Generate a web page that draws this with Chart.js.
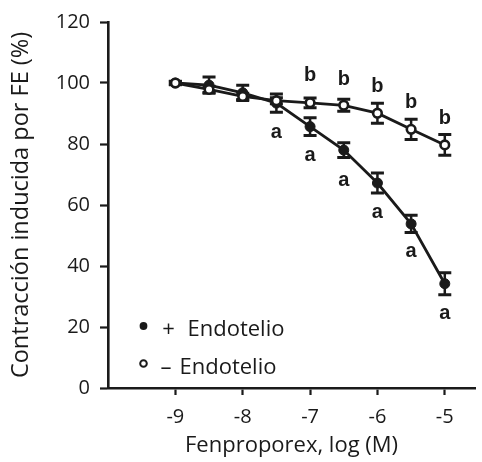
<!DOCTYPE html>
<html><head><meta charset="utf-8">
<script src="https://cdn.jsdelivr.net/npm/chart.js@4/dist/chart.umd.min.js"></script>
<style>html,body{margin:0;padding:0;background:#fff;}canvas{display:block;}</style>
</head><body>
<canvas id="c" width="482" height="462"></canvas>
<script>
// ---- data ----
const logDose = [-9, -8.5, -8, -7.5, -7, -6.5, -6, -5.5, -5];
const withEndo = [100, 99.3, 96.8, 93.4, 85.7, 78, 67.2, 53.8, 34.2];
const withEndoErr = [0.6, 2.7, 2.5, 3, 2.9, 2.4, 3.3, 2.8, 3.6];
const withoutEndo = [100, 97.9, 95.6, 94.2, 93.5, 92.7, 90.1, 84.8, 79.7];
const withoutEndoErr = [0.5, 1, 1, 1, 1.6, 2, 3.3, 3.3, 3.4];
const seriesNames = ['+ Endotelio', '\u2013 Endotelio'];
const xTickValues = [-9, -8, -7, -6, -5];
const yTickValues = [0, 20, 40, 60, 80, 100, 120];
// significance letters (x in log M, y in % units)
const letterA_x = [-7.5, -7, -6.5, -6, -5.5, -5];
const letterA_y = [83.8, 76.1, 67.9, 57.4, 44.6, 24.4];
const letterB_x = [-7, -6.5, -6, -5.5, -5];
const letterB_y = [102.6, 101, 98.7, 93.6, 88.5];

const INK = '#1a1a1a';
const FONT = '"Open Sans", "DejaVu Sans", sans-serif';

const toPts = (xs, ys) => xs.map((x, i) => ({x: x, y: ys[i]}));

const errorBars = {
  id: 'errorBars',
  beforeDatasetsDraw(chart) {
    const ctx = chart.ctx, xs = chart.scales.x, ys = chart.scales.y;
    const sets = [[withEndo, withEndoErr], [withoutEndo, withoutEndoErr]];
    ctx.save();
    ctx.strokeStyle = INK;
    sets.forEach(([vals, errs]) => {
      vals.forEach((v, i) => {
        const px = xs.getPixelForValue(logDose[i]);
        const top = ys.getPixelForValue(v + errs[i]);
        const bot = ys.getPixelForValue(v - errs[i]);
        ctx.lineWidth = 2.5;
        ctx.beginPath(); ctx.moveTo(px, top); ctx.lineTo(px, bot); ctx.stroke();
        ctx.lineWidth = 3;
        ctx.beginPath();
        ctx.moveTo(px - 6.5, top); ctx.lineTo(px + 6.5, top);
        ctx.moveTo(px - 6.5, bot); ctx.lineTo(px + 6.5, bot);
        ctx.stroke();
      });
    });
    ctx.restore();
  }
};

const letters = {
  id: 'letters',
  afterDatasetsDraw(chart) {
    const ctx = chart.ctx, xs = chart.scales.x, ys = chart.scales.y;
    ctx.save();
    ctx.fillStyle = INK;
    ctx.font = 'bold 20px "Liberation Sans", Arial, sans-serif';
    ctx.textAlign = 'center';
    ctx.textBaseline = 'middle';
    letterA_x.forEach((x, i) => ctx.fillText('a', xs.getPixelForValue(x), ys.getPixelForValue(letterA_y[i])));
    letterB_x.forEach((x, i) => ctx.fillText('b', xs.getPixelForValue(x), ys.getPixelForValue(letterB_y[i])));
    ctx.restore();
  }
};

const legendBox = {
  id: 'legendBox',
  afterDraw(chart) {
    const ctx = chart.ctx, a = chart.chartArea;
    const cx = a.left + 35.5;
    const y1 = a.bottom - 62, y2 = a.bottom - 24.5;
    ctx.save();
    ctx.fillStyle = INK; ctx.strokeStyle = INK;
    ctx.beginPath(); ctx.arc(cx, y1, 3.9, 0, Math.PI * 2); ctx.fill();
    ctx.lineWidth = 2;
    ctx.beginPath(); ctx.arc(cx, y2, 3.3, 0, Math.PI * 2);
    ctx.fillStyle = '#fff'; ctx.fill(); ctx.stroke();
    ctx.fillStyle = INK;
    ctx.font = '22px ' + FONT;
    ctx.textBaseline = 'alphabetic';
    const [s1, n1] = [seriesNames[0].slice(0, 1), seriesNames[0].slice(2)];
    const [s2, n2] = [seriesNames[1].slice(0, 1), seriesNames[1].slice(2)];
    ctx.textAlign = 'center';
    ctx.fillText(s1, cx + 25, y1 + 9.5);
    ctx.fillText(s2, cx + 22.5, y2 + 10);
    ctx.textAlign = 'left';
    ctx.fillText(n1, cx + 44, y1 + 9.5);
    ctx.fillText(n2, cx + 36, y2 + 10);
    ctx.restore();
  }
};

new Chart(document.getElementById('c'), {
  type: 'line',
  data: {
    datasets: [
      {
        label: seriesNames[1],
        data: toPts(logDose, withoutEndo),
        borderColor: INK, borderWidth: 2.8,
        pointRadius: 4.3, pointBorderWidth: 2.6,
        pointBackgroundColor: '#fff', pointBorderColor: INK,
        tension: 0, fill: false
      },
      {
        label: seriesNames[0],
        data: toPts(logDose, withEndo),
        borderColor: INK, borderWidth: 2.8,
        pointRadius: 5, pointBorderWidth: 1,
        pointBackgroundColor: INK, pointBorderColor: INK,
        tension: 0, fill: false
      }
    ]
  },
  options: {
    responsive: false,
    animation: false,
    devicePixelRatio: 1,
    layout: {padding: {top: 22, right: 1, left: 0, bottom: 0}},
    plugins: {legend: {display: false}, tooltip: {enabled: false}},
    scales: {
      x: {
        type: 'linear', min: -10, max: -4.55,
        afterBuildTicks: s => { s.ticks = xTickValues.map(v => ({value: v})); },
        afterFit: s => { s.height = 74; },
        ticks: {font: {family: FONT, size: 20}, color: INK, padding: 10},
        grid: {drawOnChartArea: false, drawTicks: true, tickLength: 7, tickWidth: 2.2, tickColor: INK, color: INK},
        border: {display: true, width: 2.6, color: INK},
        title: {display: true, text: 'Fenproporex, log (M)', color: INK,
                font: {family: FONT, size: 22}, padding: {top: 0, bottom: 3}}
      },
      y: {
        type: 'linear', min: 0, max: 120,
        afterBuildTicks: s => { s.ticks = yTickValues.map(v => ({value: v})); },
        afterFit: s => { s.width = 108; },
        ticks: {font: {family: FONT, size: 20}, color: INK, padding: 10},
        grid: {drawOnChartArea: false, drawTicks: true, tickLength: 8, tickWidth: 2.2, tickColor: INK, color: INK},
        border: {display: true, width: 2.6, color: INK},
        title: {display: true, text: 'Contracción inducida por FE (%)', color: INK,
                font: {family: FONT, size: 23.5}, padding: {top: 7, bottom: 0}}
      }
    }
  },
  plugins: [errorBars, letters, legendBox]
});
</script>
</body></html>
